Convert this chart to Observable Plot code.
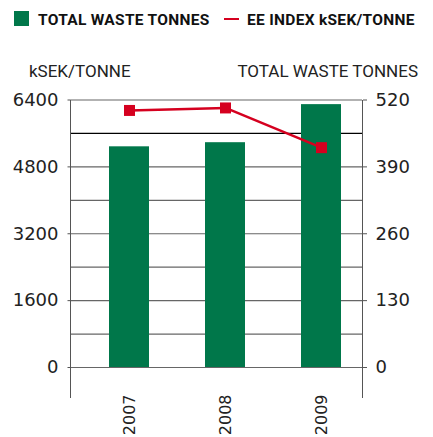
<!DOCTYPE html>
<html>
<head>
<meta charset="utf-8">
<script src="https://cdn.jsdelivr.net/npm/d3@7"></script>
<script src="https://cdn.jsdelivr.net/npm/@observablehq/plot@0.6"></script>
<style>
  html, body { margin: 0; padding: 0; background: #fff; }
  #wrap { position: relative; width: 433px; height: 437px; overflow: hidden; }
  .legend { position: absolute; font-family: Roboto, sans-serif; font-weight: bold; font-size: 15.5px; line-height: 15.5px; letter-spacing: 0.3px; color: #111; white-space: nowrap; }
  .swatch { position: absolute; }
  .atitle { position: absolute; font-family: Roboto, sans-serif; font-size: 17px; line-height: 17px; color: #222; white-space: nowrap; }
  #chart { position: absolute; left: 0; top: 88px; }
</style>
</head>
<body>
<div id="wrap">
  <div class="swatch" style="left:14px;top:11px;width:15px;height:15px;background:#00774a"></div>
  <div class="legend" style="left:38px;top:13px">TOTAL WASTE TONNES</div>
  <div class="swatch" style="left:224px;top:17.5px;width:15px;height:2.5px;background:#d5001f"></div>
  <div class="legend" style="left:247px;top:13px">EE INDEX kSEK/TONNE</div>
  <div class="atitle" style="left:29px;top:63px">kSEK/TONNE</div>
  <div class="atitle" style="right:15px;top:63px">TOTAL WASTE TONNES</div>
  <div id="chart"></div>
</div>
<script>
const years = ["2007", "2008", "2009"];
const wasteTonnes = [429, 437, 511];
const eeIndex = [6150, 6210, 5260];
const leftTicks = [0, 1600, 3200, 4800, 6400];
const rightTicks = [0, 130, 260, 390, 520];
const gridLines = [0, 800, 1600, 2400, 3200, 4000, 4800, 6400];
const darkGridLines = [5600];

const k = 6400 / 520; // right axis -> left axis units
const rows = years.map((y, i) => ({year: y, waste: wasteTonnes[i], ee: eeIndex[i]}));

const chart = Plot.plot({
  width: 433,
  height: 349,
  marginTop: 12,
  marginBottom: 40,
  marginLeft: 70,
  marginRight: 71,
  x: {type: "band", domain: years, range: [51.5, 397.5], padding: 0.5855},
  y: {domain: [0, 6400], range: [279, 11.5]},
  style: {fontFamily: "DejaVu Sans", fontSize: "18px", color: "#222", background: "white"},
  marks: [
    Plot.ruleY(gridLines, {stroke: "#666", strokeWidth: 1.2}),
    Plot.ruleY(darkGridLines, {stroke: "#000", strokeWidth: 1.3}),
    Plot.barY(rows, {x: "year", y: d => d.waste * k, fill: "#00774a"}),
    Plot.frame({anchor: "left", stroke: "#555"}),
    Plot.frame({anchor: "right", stroke: "#555"}),
    Plot.line(rows, {x: "year", y: "ee", stroke: "#d5001f", strokeWidth: 2.5}),
    Plot.dot(rows, {x: "year", y: "ee", symbol: "square", fill: "#d5001f", stroke: "none", r: 6.2}),
    Plot.axisY({anchor: "left", ticks: leftTicks, tickFormat: d3.format("d"), tickSize: 2.5, tickPadding: 9.5, label: null, stroke: "#555"}),
    Plot.axisY({anchor: "right", ticks: rightTicks.map(t => t * k), tickFormat: d => String(Math.round(d / k)), tickSize: 4, tickPadding: 9, label: null, stroke: "#555"}),
    Plot.axisX({anchor: "bottom", tickRotate: -90, tickSize: 0, tickPadding: -3, label: null, fontSize: 16})
  ]
});
document.getElementById("chart").appendChild(chart);
</script>
</body>
</html>
